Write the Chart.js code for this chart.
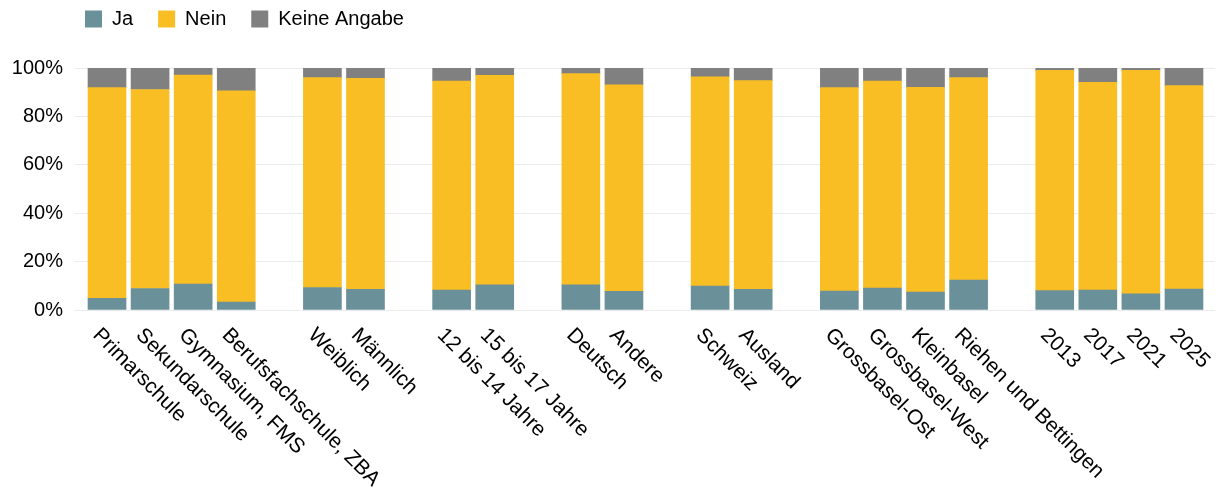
<!DOCTYPE html>
<html>
<head>
<meta charset="utf-8">
<script src="https://cdn.jsdelivr.net/npm/chart.js@4"></script>
<style>
  html, body { margin: 0; padding: 0; background: #fff; }
  #wrap { width: 1217px; height: 497px; }
</style>
</head>
<body>
<div id="wrap"><canvas id="chart"></canvas></div>
<script>
// categories, '' = gap between groups
const labels = [
    'Primarschule', 'Sekundarschule', 'Gymnasium, FMS', 'Berufsfachschule, ZBA', '',
    'Weiblich', 'Männlich', '',
    '12 bis 14 Jahre', '15 bis 17 Jahre', '',
    'Deutsch', 'Andere', '',
    'Schweiz', 'Ausland', '',
    'Grossbasel-Ost', 'Grossbasel-West', 'Kleinbasel', 'Riehen und Bettingen', '',
    '2013', '2017', '2021', '2025'
];
const ja = [4.8, 8.9, 10.7, 3.3, null, 9.3, 8.5, null, 8.2, 10.4, null, 10.4, 7.7, null, 9.9, 8.5, null, 7.8, 9.1, 7.4, 12.4, null, 8.0, 8.2, 6.7, 8.6];
const nein = [87.1, 82.2, 86.4, 87.3, null, 86.7, 87.2, null, 86.4, 86.6, null, 87.3, 85.3, null, 86.5, 86.3, null, 84.1, 85.5, 84.6, 83.6, null, 91.0, 85.9, 92.3, 84.1];
const keineAngabe = [8.1, 8.9, 2.9, 9.4, null, 4.0, 4.3, null, 5.4, 3.0, null, 2.3, 7.0, null, 3.6, 5.2, null, 8.1, 5.4, 8.0, 4.0, null, 1.0, 5.9, 1.0, 7.3];
const yTicks = [0, 20, 40, 60, 80, 100];

const FONT = 'Liberation Sans, Arial, sans-serif';
const LEGEND_PAD = 25;

function points(arr) {
    return arr.map((v, i) => ({x: i, y: v})).filter(p => p.y !== null);
}

// rotated x labels, text running down to the right from the tick
const xLabelPlugin = {
    id: 'xLabels',
    afterDraw(chart) {
        const ctx = chart.ctx;
        const xs = chart.scales.x;
        const bottom = chart.chartArea.bottom;
        ctx.save();
        ctx.font = '21px ' + FONT;
        ctx.fillStyle = '#000';
        ctx.textAlign = 'left';
        ctx.textBaseline = 'middle';
        labels.forEach((lab, i) => {
            if (!lab) return;
            const x = xs.getPixelForValue(i);
            ctx.save();
            ctx.translate(x - 11, bottom + 22);
            ctx.rotate(Math.PI / 4);
            ctx.fillText(lab, 0, 0);
            ctx.restore();
        });
        ctx.restore();
    }
};

// move legend so it starts over the plot panel, near the top edge
const legendShift = {
    id: 'legendShift',
    afterLayout(chart) {
        chart.legend.left = chart.chartArea.left + 10 - LEGEND_PAD;
        chart.legend.top = 9 - LEGEND_PAD;
    }
};

const ctx = document.getElementById('chart').getContext('2d');
const myChart = new Chart(ctx, {
    type: 'bar',
    data: {
        datasets: [
            { label: 'Ja', data: points(ja), backgroundColor: '#6a9099' },
            { label: 'Nein', data: points(nein), backgroundColor: '#f9be24' },
            { label: 'Keine Angabe', data: points(keineAngabe), backgroundColor: '#808080' }
        ]
    },
    plugins: [xLabelPlugin, legendShift],
    options: {
        responsive: true,
        maintainAspectRatio: false,
        animation: false,
        layout: { padding: { left: 8, right: 2, top: 13, bottom: 187 } },
        datasets: {
            bar: { barThickness: 38, borderWidth: 0 }
        },
        plugins: {
            legend: {
                position: 'top',
                align: 'start',
                labels: {
                    boxWidth: 17,
                    boxHeight: 17,
                    padding: LEGEND_PAD,
                    color: '#000',
                    font: { family: FONT, size: 20 }
                }
            },
            tooltip: { enabled: false }
        },
        scales: {
            x: {
                type: 'linear',
                stacked: true,
                offset: false,
                min: -0.743,
                max: 25.72,
                display: false
            },
            y: {
                stacked: true,
                min: 0,
                max: 100,
                afterBuildTicks: (s) => { s.ticks = yTicks.map(v => ({value: v})); },
                afterFit: (s) => { s.width = 67; },
                border: { display: false },
                grid: { color: '#ebebeb', lineWidth: 1, drawTicks: false },
                ticks: {
                    padding: 12,
                    color: '#000',
                    font: { family: FONT, size: 20 },
                    callback: (v) => v + '%'
                }
            }
        }
    }
});
</script>
</body>
</html>
